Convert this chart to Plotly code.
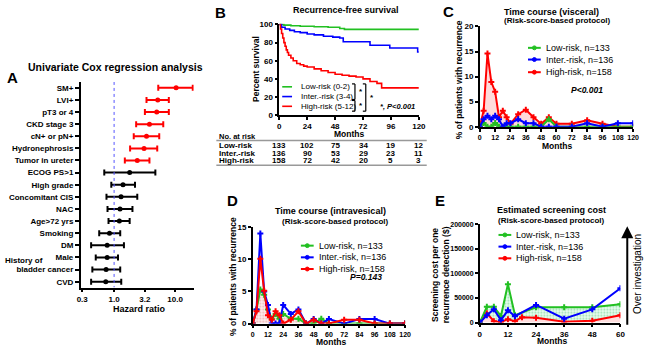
import plotly.graph_objects as go

W, H = 650, 351
def px(x): return x / W
def py(y): return 1 - y / H

FONT = "Liberation Sans"
GREEN = "#22c022"
BLUE = "#0000ff"
RED = "#ff0000"

# ---------------- Panel A: univariate Cox regression ----------------
cox_labels = ["SM+", "LVI+", "pT3 or 4", "CKD stage 3", "cN+ or pN+", "Hydronephrosis",
              "Tumor in ureter", "ECOG PS>1", "High grade", "Concomitant CIS", "NAC",
              "Age>72 yrs", "Smoking", "DM", "Male", "bladder cancer", "CVD"]
cox_hr = [10.4, 5.2, 5.0, 3.8, 3.4, 3.1, 2.4, 1.8, 1.4, 1.3, 1.25, 1.22, 0.84, 0.77, 0.77, 0.74, 0.73]
cox_lo = [5.3, 3.4, 3.2, 2.3, 2.1, 1.83, 1.5, 0.69, 0.9, 0.75, 0.78, 0.81, 0.57, 0.42, 0.5, 0.44, 0.42]
cox_hi = [19.5, 7.9, 7.9, 6.4, 5.5, 5.1, 3.8, 4.75, 2.2, 2.4, 2.0, 1.8, 1.26, 1.45, 1.16, 1.26, 1.31]
n_sig = 7
hr_ticks = [0.3, 1.0, 3.2, 10.0]
hr_ticktext = ["0.3", "1.0", "3.2", "10.0"]

# ---------------- Panel B: Kaplan-Meier ----------------
km_low_t = [0, 4, 10, 18, 30, 42, 52, 56, 120]
km_low_s = [100, 99.3, 98.6, 98, 97.5, 97, 95.5, 94.6, 94.6]
km_int_t = [0, 2, 5, 9, 13, 18, 24, 30, 38, 46, 52, 55, 78, 95, 117, 119, 120]
km_int_s = [100, 97, 95, 93.5, 92, 91, 89.5, 88.5, 87, 86, 85, 81, 77, 74, 74, 69.6, 69.6]
km_high_t = [0, 1, 2, 3, 4, 5, 6, 7, 8, 10, 12, 15, 18, 21, 24, 30, 36, 42, 48, 54, 60, 66, 72, 78, 84, 88, 120]
km_high_s = [100, 95, 90, 85, 80, 76, 72, 69, 66, 63, 60, 57, 55.5, 54, 53, 51, 49, 47, 45, 44, 43, 42, 40, 37, 35, 30, 30]
km_names = ["Low-risk (0-2)", "Inter.-risk (3-4)", "High-risk (5-12)"]
risk_months = [0, 24, 48, 72, 96, 120]
risk_rows = ["Low-risk", "Inter.-risk", "High-risk"]
risk_low = [133, 102, 75, 34, 19, 12]
risk_int = [136, 90, 53, 29, 23, 11]
risk_high = [158, 72, 42, 20, 5, 3]

# ---------------- Panels C & D: time courses ----------------
tc_months = [0, 3, 6, 9, 12, 15, 18, 21, 24, 30, 36, 42, 48, 54, 60, 72, 84, 96, 108, 120]
vis_low = [0, 0.75, 0, 0, 0.75, 0, 0, 0, 0, 0, 0, 0, 0, 1.5, 0, 0, 0, 0, 0, 0]
vis_int = [0, 1.5, 2.2, 1.5, 2.2, 1.5, 0, 0.7, 0.7, 1.5, 0.7, 0.7, 0, 0, 0, 0, 0.7, 0, 0.7, 0.7]
vis_high = [0, 3.2, 14.6, 8.9, 7.0, 1.9, 3.2, 1.9, 0.6, 2.5, 3.4, 1.9, 0.6, 1.9, 0.6, 0.6, 1.3, 0.6, 0, 0]
ves_low = [0, 2.2, 5.3, 4.5, 2.2, 0.75, 1.5, 0.75, 1.5, 0.75, 0.75, 0, 0, 0.75, 0, 0, 0, 0, 0, 0]
ves_int = [0, 2.2, 14.0, 5.0, 2.9, 0, 0, 0, 2.9, 1.5, 2.2, 0, 0.7, 0, 0.7, 0, 0.7, 0.7, 0, 0]
ves_high = [0, 1.9, 10.1, 5.1, 1.3, 0.6, 1.9, 1.3, 0, 0.6, 1.9, 0, 0.6, 0, 0, 0.6, 0.6, 0, 0, 0]
group_names = ["Low-risk, n=133", "Inter.-risk, n=136", "High-risk, n=158"]

# ---------------- Panel E: screening cost ----------------
cost_low_m = [0, 3, 6, 9, 12, 15, 24, 36, 48, 60]
cost_low = [0, 32000, 32000, 13000, 78000, 15000, 31000, 31000, 31000, 37500]
cost_int_m = [0, 3, 6, 9, 12, 15, 24, 36, 48, 60]
cost_int = [0, 15000, 27000, 5000, 25000, 13000, 36000, 8000, 27000, 70000]
cost_high_m = [0, 3, 6, 9, 12, 15, 18, 24, 36, 48, 60]
cost_high = [0, 19000, 3000, 1000, 7000, 3000, 11000, 10000, 2000, 4000, 15000]

fig = go.Figure()

# ---- A traces
rows = list(range(len(cox_labels)))
for sl, col in [(slice(0, n_sig), RED), (slice(n_sig, None), "black")]:
    hr = cox_hr[sl]; lo = cox_lo[sl]; hi = cox_hi[sl]
    fig.add_trace(go.Scatter(
        x=hr, y=rows[sl], mode="markers", xaxis="x", yaxis="y",
        marker=dict(color=col, size=5, symbol="circle"),
        error_x=dict(type="data", symmetric=False,
                     array=[h - v for h, v in zip(hi, hr)],
                     arrayminus=[v - l for v, l in zip(hr, lo)],
                     color=col, thickness=2, width=3)))
fig.add_trace(go.Scatter(x=[1, 1], y=[-0.48, 16.48], mode="lines", xaxis="x", yaxis="y",
                         line=dict(color="#5555ff", width=1, dash="dot")))

# ---- B traces
for t, s, c in [(km_low_t, km_low_s, GREEN), (km_int_t, km_int_s, BLUE), (km_high_t, km_high_s, RED)]:
    fig.add_trace(go.Scatter(x=t, y=s, mode="lines", line=dict(color=c, width=1.6, shape="hv"),
                             xaxis="x2", yaxis="y2"))

# ---- C traces
fig.add_trace(go.Scatter(x=tc_months, y=vis_high, mode="lines+markers", xaxis="x3", yaxis="y3",
                         line=dict(color=RED, width=2), marker=dict(symbol="cross", size=5, color=RED),
                         fill="tozeroy", fillcolor="rgba(255,190,190,0.55)"))
fig.add_trace(go.Scatter(x=tc_months, y=vis_low, mode="lines+markers", xaxis="x3", yaxis="y3",
                         line=dict(color=GREEN, width=2), marker=dict(symbol="cross", size=5, color=GREEN)))
fig.add_trace(go.Scatter(x=tc_months, y=vis_int, mode="lines+markers", xaxis="x3", yaxis="y3",
                         line=dict(color=BLUE, width=2), marker=dict(symbol="cross", size=5, color=BLUE)))

# ---- D traces
fig.add_trace(go.Scatter(x=tc_months, y=ves_low, mode="lines+markers", xaxis="x4", yaxis="y4",
                         line=dict(color=GREEN, width=2), marker=dict(symbol="cross", size=5, color=GREEN),
                         fill="tozeroy", fillcolor="rgba(255,215,215,0.6)",
                         fillpattern=dict(shape=".", fgcolor="rgba(200,80,80,0.7)",
                                          bgcolor="rgba(255,225,225,0.6)", size=3, solidity=0.3)))
fig.add_trace(go.Scatter(x=tc_months, y=ves_int, mode="lines+markers", xaxis="x4", yaxis="y4",
                         line=dict(color=BLUE, width=2), marker=dict(symbol="cross", size=5, color=BLUE)))
fig.add_trace(go.Scatter(x=tc_months, y=ves_high, mode="lines+markers", xaxis="x4", yaxis="y4",
                         line=dict(color=RED, width=2), marker=dict(symbol="cross", size=5, color=RED)))

# ---- E traces
fig.add_trace(go.Scatter(x=cost_high_m, y=cost_high, mode="lines+markers", xaxis="x5", yaxis="y5",
                         line=dict(color=RED, width=2), marker=dict(symbol="cross", size=5, color=RED),
                         fill="tozeroy", fillcolor="rgba(255,200,200,0.6)"))
fig.add_trace(go.Scatter(x=cost_low_m, y=cost_low, mode="lines+markers", xaxis="x5", yaxis="y5",
                         line=dict(color=GREEN, width=2), marker=dict(symbol="cross", size=5, color=GREEN),
                         fill="tonexty", fillcolor="rgba(200,245,215,0.6)",
                         fillpattern=dict(shape=".", fgcolor="rgba(40,180,90,0.8)",
                                          bgcolor="rgba(215,250,225,0.6)", size=3, solidity=0.3)))
fig.add_trace(go.Scatter(x=cost_int_m, y=cost_int, mode="lines+markers", xaxis="x5", yaxis="y5",
                         line=dict(color=BLUE, width=2), marker=dict(symbol="cross", size=5, color=BLUE)))

# ---- axes
def tf(size=8):
    return dict(family=FONT, size=size, color="black", weight="bold")
def ax(**kw):
    d = dict(showline=True, linecolor="black", linewidth=1.5, ticks="outside", ticklen=3,
             tickwidth=1.5, tickcolor="black", showgrid=False, zeroline=False, tickfont=tf(8),
             fixedrange=True, tickangle=0)
    d.update(kw)
    return d

def ydom(bottom_px, top_px):
    return [py(bottom_px), py(top_px)]

layout_axes = dict(
    xaxis=ax(type="log", domain=[px(78), px(193)], range=[-0.548, 1.306],
             tickvals=hr_ticks, ticktext=hr_ticktext, anchor="y"),
    yaxis=ax(domain=ydom(291, 80), range=[16.48, -0.48], tickvals=rows, ticktext=cox_labels,
             anchor="x", ticklen=4),
    xaxis2=ax(domain=[px(280), px(422)], range=[0, 120], tickvals=risk_months, anchor="y2"),
    yaxis2=ax(domain=ydom(114, 20.1), range=[0, 101], tickvals=[0, 20, 40, 60, 80, 100], anchor="x2"),
    xaxis3=ax(domain=[px(484), px(640)], range=[0, 120], tickvals=list(range(0, 121, 12)), anchor="y3",
              tickfont=tf(7)),
    yaxis3=ax(domain=ydom(126, 23), range=[0, 20], tickvals=[0, 5, 10, 15, 20], anchor="x3"),
    xaxis4=ax(domain=[px(253), px(408)], range=[0, 120], tickvals=list(range(0, 121, 12)), anchor="y4",
              tickfont=tf(7)),
    yaxis4=ax(domain=ydom(328, 229), range=[0, 15], tickvals=[0, 5, 10, 15], anchor="x4"),
    xaxis5=ax(domain=[px(484), px(627)], range=[0, 60], tickvals=[0, 12, 24, 36, 48, 60], anchor="y5"),
    yaxis5=ax(domain=ydom(327, 226), range=[0, 200000], tickvals=[0, 50000, 100000, 150000, 200000],
              tickformat="d", anchor="x5", tickfont=tf(7)),
)

ann = []
def txt(x, y, s, size=8, bold=True, italic=False, xanchor="center", angle=0, color="black", xref="paper"):
    ann.append(dict(x=x if xref != "paper" else px(x), y=py(y), xref=xref, yref="paper", text=s,
                    showarrow=False, xanchor=xanchor, yanchor="middle", textangle=angle,
                    font=dict(family=FONT, size=size, color=color,
                              weight="bold" if bold else "normal",
                              style="italic" if italic else "normal")))

# panel letters
for L, x, y in [("A", 9, 75), ("B", 220, 9), ("C", 452, 8), ("D", 232, 202), ("E", 443, 202)]:
    txt(x, y, L, size=15)

# titles
txt(113, 65, "Univariate Cox regression analysis", size=10.5)
txt(138, 313, "Hazard ratio", size=9)
txt(20, 263, "History of", size=8)
txt(348, 6, "Recurrence-free survival", size=9)
txt(557, 8, "Time course (visceral)", size=9)
txt(563, 17, "(Risk-score-based protocol)", size=8)
txt(332, 212, "Time course (intravesical)", size=9)
txt(337, 223, "(Risk-score-based protocol)", size=8)
txt(557, 211, "Estimated screening cost", size=9)
txt(557, 222, "(Risk-score-based protocol)", size=8)

# axis titles
txt(257, 67, "Percent survival", size=8.5, angle=-90)
txt(463, 78, "% of patients with recurrence", size=8.5, angle=-90)
txt(233, 280, "% of patients with recurrence", size=8.5, angle=-90)
txt(444, 278, "Screening cost per one<br>recurrence detection ($)", size=8.5, angle=-90)
txt(351, 133, "Months", size=8.5)
txt(563, 146, "Months", size=8.5)
txt(333, 346.5, "Months", size=8.5)
txt(557, 346, "Months", size=8.5)

# P values
txt(593, 88, "P<0.001", size=8.5, italic=True)
txt(368, 280, "P=0.143", size=8.5, italic=True)
txt(400, 105, "*, P<0.001", size=7.5, italic=True)

# risk table
txt(217, 136, "No. at risk", size=7.5, xanchor="left")
for r, (name, vals) in enumerate(zip(risk_rows, [risk_low, risk_int, risk_high])):
    y = [145, 153, 161][r]
    txt(217, y, name, size=8, xanchor="left")
    for m, v in zip(risk_months, vals):
        txt(m, y, str(v), size=8, xref="x2")

shapes = []
def hline(x0, x1, y, color, width):
    shapes.append(dict(type="line", xref="paper", yref="paper", x0=px(x0), x1=px(x1),
                       y0=py(y), y1=py(y), line=dict(color=color, width=width)))
def vline(x, y0, y1, color, width):
    shapes.append(dict(type="line", xref="paper", yref="paper", x0=px(x), x1=px(x),
                       y0=py(y0), y1=py(y1), line=dict(color=color, width=width)))
hline(216, 430, 140, "#999999", 1.5)
hline(216, 430, 165.5, "#999999", 1.5)

# B legend
for i, (name, c) in enumerate(zip(km_names, [GREEN, BLUE, RED])):
    y = [85, 95, 105][i]
    hline(283, 293, y, c, 1.6)
    txt(300, y, name, size=8, bold=False, xanchor="left")
# brackets
for (y0, y1, x, sx, sy) in [(82, 98, 357, 363, 90), (99, 110, 357, 363, 104), (82, 110, 368, 374, 96)]:
    vline(x, y0, y1, "black", 1.2)
    hline(x - 3, x, y0, "black", 1.2)
    hline(x - 3, x, y1, "black", 1.2)
    txt(sx, sy, "*", size=8)

# C, D, E legends
def legend(x0, ys, size=9):
    for i, (name, c) in enumerate(zip(group_names, [GREEN, BLUE, RED])):
        y = ys[i]
        hline(x0, x0 + 13, y, c, 2)
        shapes.append(dict(type="circle", xref="paper", yref="paper",
                           x0=px(x0 + 4.5), x1=px(x0 + 8.5), y0=py(y + 2), y1=py(y - 2),
                           fillcolor=c, line=dict(color=c, width=1)))
        txt(x0 + 16, y, name, size=size, bold=False, xanchor="left")
legend(533, [45, 57, 70])
legend(302, [248, 260, 272])
legend(503, [237, 249, 261])

# over-investigation arrow
ann.append(dict(x=px(634), y=py(228), xref="paper", yref="paper", ax=0, ay=100, text="",
                showarrow=True, arrowhead=2, arrowsize=1.2, arrowwidth=2, arrowcolor="black"))
txt(645, 277, "Over investigation", size=10, bold=False, angle=-90)

fig.update_layout(
    width=W, height=H, margin=dict(l=0, r=0, t=0, b=0), autosize=False,
    paper_bgcolor="white", plot_bgcolor="white", showlegend=False,
    font=dict(family=FONT, size=8, color="black"),
    annotations=ann, shapes=shapes, **layout_axes)

fig.write_html("out.html", config={"displayModeBar": False},
               post_script="document.body.style.margin='0';document.body.style.overflow='hidden';")
